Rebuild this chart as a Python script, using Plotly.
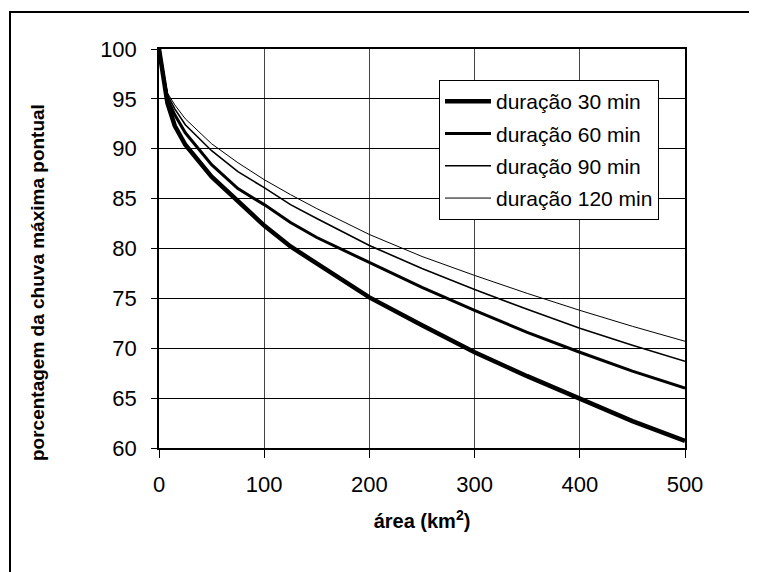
import plotly.graph_objects as go

area = [0, 8, 15, 25, 50, 75, 100, 125, 150, 200, 250, 300, 350, 400, 450, 500]
d30 = [100, 94.6, 92.3, 90.4, 87.2, 84.7, 82.3, 80.2, 78.5, 75.1, 72.3, 69.6, 67.2, 64.9, 62.7, 60.7]
d60 = [100, 95.0, 93.4, 91.6, 88.4, 86.0, 84.4, 82.6, 81.1, 78.6, 76.1, 73.8, 71.6, 69.6, 67.7, 66.0]
d90 = [100, 95.4, 94.0, 92.4, 89.8, 87.7, 86.1, 84.4, 83.0, 80.3, 78.0, 75.9, 73.9, 72.0, 70.3, 68.7]
d120 = [100, 95.6, 94.4, 93.0, 90.5, 88.6, 86.9, 85.4, 84.0, 81.4, 79.2, 77.3, 75.5, 73.8, 72.2, 70.7]

series = [
    ("duração 30 min", d30, 4.5),
    ("duração 60 min", d60, 3),
    ("duração 90 min", d90, 1.6),
    ("duração 120 min", d120, 1),
]
x_title = "<b>área (km<sup>2</sup>)</b>"
y_title = "<b>porcentagem da chuva máxima pontual</b>"

FONT = "Liberation Sans, Arial, sans-serif"

fig = go.Figure()
for i, (name, vals, w) in enumerate(series):
    fig.add_trace(go.Scatter(x=area, y=vals, mode="lines", name=name, legendgroup=f"g{i}",
                             line=dict(color="black", width=w)))

# page body has an 8px default margin; figure coordinates are offset accordingly
OFF = 8
W, H = 757 - OFF, 572 - OFF
L, R, T, B = 159 - OFF, 685 - OFF, 49 - OFF, 448 - OFF
PW, PH = R - L, B - T
fig.update_layout(
    width=W, height=H,
    margin=dict(l=L, r=W - R, t=T, b=H - B, pad=0),
    paper_bgcolor="white", plot_bgcolor="white",
    font=dict(family=FONT, color="black", size=20),
    showlegend=True,
    legend=dict(x=(439 - OFF - L) / PW, y=(B - (80 - OFF)) / PH, xanchor="left", yanchor="top",
                bgcolor="white", bordercolor="black", borderwidth=1, itemwidth=46,
                font=dict(size=21, family=FONT), tracegroupgap=2),
    xaxis=dict(range=[0, 500], dtick=100, tick0=0, showgrid=True, gridcolor="#444", gridwidth=1,
               showline=True, linecolor="black", linewidth=1.5, mirror=True,
               ticks="outside", ticklen=8, tickcolor="black", tickwidth=1,
               ticklabelstandoff=8,
               tickfont=dict(size=22), zeroline=False,
               title=dict(text=x_title, font=dict(size=20), standoff=18)),
    yaxis=dict(range=[60, 100], dtick=5, showgrid=True, gridcolor="black", gridwidth=1,
               showline=True, linecolor="black", linewidth=1.5, mirror=True,
               ticks="outside", ticklen=6, tickcolor="black", tickwidth=1,
               ticklabelstandoff=10,
               tickfont=dict(size=22), zeroline=False),
    annotations=[dict(text=y_title, textangle=-90, showarrow=False,
                      xref="paper", yref="paper",
                      x=(37 - OFF - L) / PW, y=(B - (283 - OFF)) / PH,
                      xanchor="center", yanchor="middle",
                      font=dict(size=19, family=FONT, color="black"))],
    shapes=[dict(type="rect", xref="paper", yref="paper",
                 x0=(10 - OFF - L) / PW, x1=(W + 20 - L) / PW,
                 y0=(B - (H + 20)) / PH, y1=(B - (12 - OFF)) / PH,
                 line=dict(color="black", width=2), layer="below")],
)

fig.write_html("out.html")
